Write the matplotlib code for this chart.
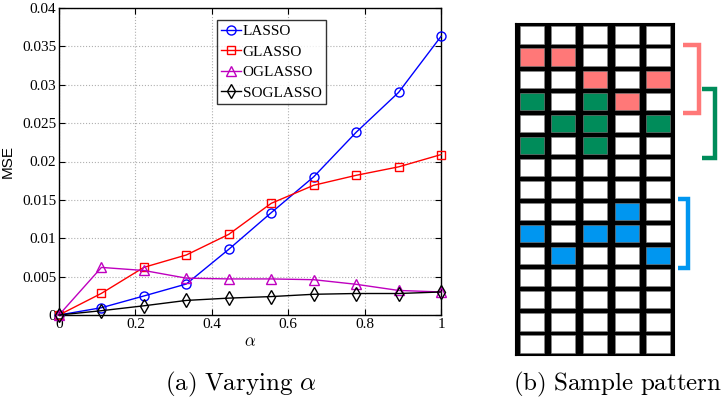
"""
MSE vs. alpha for the four lasso variants, plus the sample sparsity pattern.
"""
import numpy as np
import matplotlib
matplotlib.use("Agg")
import matplotlib.pyplot as plt
from matplotlib.patches import Rectangle

plt.rcParams["mathtext.fontset"] = "cm"

# ---- data ----
alpha = [0, 1 / 9, 2 / 9, 3 / 9, 4 / 9, 5 / 9, 6 / 9, 7 / 9, 8 / 9, 1]
mse_lasso = [0.0, 0.00095, 0.00248, 0.00404, 0.00856, 0.01333, 0.0180, 0.0238, 0.0290, 0.0363]
mse_glasso = [0.0, 0.00282, 0.00621, 0.00782, 0.01051, 0.01455, 0.0169, 0.0182, 0.0193, 0.0209]
mse_oglasso = [0.0, 0.0062, 0.0058, 0.0048, 0.0047, 0.0047, 0.0046, 0.0040, 0.0032, 0.0030]
mse_soglasso = [0.0, 0.00056, 0.0012, 0.0019, 0.0022, 0.0024, 0.0027, 0.0028, 0.0028, 0.0030]

series_names = ["LASSO", "GLASSO", "OGLASSO", "SOGLASSO"]
x_ticks = [0, 0.2, 0.4, 0.6, 0.8, 1]
x_tick_labels = ["0", "0.2", "0.4", "0.6", "0.8", "1"]
y_ticks = [0, 0.005, 0.01, 0.015, 0.02, 0.025, 0.03, 0.035, 0.04]
y_tick_labels = ["0", "0.005", "0.01", "0.015", "0.02", "0.025", "0.03", "0.035", "0.04"]

# sample pattern: 0 = white, 1 = red group, 2 = green group, 3 = blue group
pattern = [
    [0, 0, 0, 0, 0],
    [1, 1, 0, 0, 0],
    [0, 0, 1, 0, 1],
    [2, 0, 2, 1, 0],
    [0, 2, 2, 0, 2],
    [2, 0, 2, 0, 0],
    [0, 0, 0, 0, 0],
    [0, 0, 0, 0, 0],
    [0, 0, 0, 3, 0],
    [3, 0, 3, 3, 0],
    [0, 3, 0, 0, 3],
    [0, 0, 0, 0, 0],
    [0, 0, 0, 0, 0],
    [0, 0, 0, 0, 0],
    [0, 0, 0, 0, 0],
]
# group brackets: (first row, last row, code)
brackets = [(1, 3, 1), (3, 5, 2), (8, 10, 3)]

cell_colors = {0: "white", 1: "#FF7878", 2: "#008C5A", 3: "#0096F0"}
bracket_x = {1: (5.28, 5.79), 2: (5.89, 6.30), 3: (5.13, 5.44)}

serif = ["Liberation Serif", "DejaVu Serif"]

fig = plt.figure(figsize=(7.22, 4.0), dpi=100)

# ---- (a) MSE curves ----
ax = fig.add_axes([59 / 722, 1 - 315 / 400, 382 / 722, 307 / 400])
styles = [
    (mse_lasso, "b", "o", 6.5),
    (mse_glasso, "r", "s", 5.5),
    (mse_oglasso, "m", "^", 7),
    (mse_soglasso, "k", "d", 7),
]
for name, (vals, col, mk, ms) in zip(series_names, styles):
    ax.plot(alpha, vals, color=col, marker=mk, markersize=ms,
            markerfacecolor="none", markeredgecolor=col, markeredgewidth=1.0,
            linewidth=1.0, label=name, clip_on=False, zorder=3)

ax.set_xlim(0, 1)
ax.set_ylim(0, 0.04)
ax.set_xticks(x_ticks)
ax.set_xticklabels(x_tick_labels, fontfamily=serif, fontsize=11)
ax.set_yticks(y_ticks)
ax.set_yticklabels(y_tick_labels, fontfamily=serif, fontsize=11)
ax.tick_params(direction="in", top=True, right=True, length=4, width=0.8, pad=2)
ax.grid(True, linestyle=":", color="#b0b0b0", linewidth=0.8)
for sp in ax.spines.values():
    sp.set_linewidth(1.0)
ax.set_xlabel(r"$\alpha$", fontsize=12, labelpad=1)
ax.set_ylabel("MSE", fontsize=11, fontfamily=["Liberation Sans", "DejaVu Sans"])
ax.yaxis.set_label_coords(-44 / 382, 0.5)

leg = ax.legend(loc="upper left", bbox_to_anchor=(0.413, 0.962),
                prop={"family": serif, "size": 11}, frameon=True, fancybox=False,
                edgecolor="black", handlelength=1.3, handletextpad=0.1,
                borderpad=0.3, labelspacing=0.45, borderaxespad=0)
leg.get_frame().set_linewidth(1.0)

fig.text(241 / 722, 1 - 384 / 400, r"$\mathrm{(a)\ Varying}\ \alpha$",
         ha="center", va="center", fontsize=18)

# ---- (b) sample pattern ----
n_rows, n_cols = len(pattern), len(pattern[0])
axp = fig.add_axes([516 / 722, 1 - 355 / 400, 158 / 722, 331 / 400])
axp.set_facecolor("black")
axp.set_xlim(0, n_cols)
axp.set_ylim(n_rows, 0)
gap_x, gap_y = 0.12, 0.11
for r, row in enumerate(pattern):
    for c, code in enumerate(row):
        axp.add_patch(Rectangle((c + gap_x, r + gap_y), 1 - 2 * gap_x, 1 - 2 * gap_y,
                                facecolor=cell_colors[code], edgecolor="#888888",
                                linewidth=0.4))
for r0, r1, code in brackets:
    x0, x1 = bracket_x[code]
    ys = [r0 - 0.05, r1 + 1.05]
    axp.plot([x0, x1, x1, x0], [ys[0], ys[0], ys[1], ys[1]],
             color=cell_colors[code], linewidth=3.2, clip_on=False,
             solid_joinstyle="miter", solid_capstyle="butt")
axp.set_xticks([])
axp.set_yticks([])
for sp in axp.spines.values():
    sp.set_color("black")
    sp.set_linewidth(1.5)

fig.text(618 / 722, 1 - 384 / 400, r"$\mathrm{(b)\ Sample\ pattern}$",
         ha="center", va="center", fontsize=18)

fig.savefig("out.png", dpi=100)
